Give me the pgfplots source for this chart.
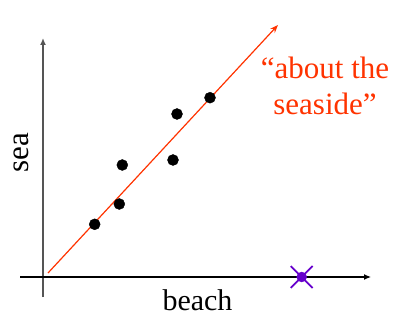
\documentclass[border=0pt]{standalone}
\usepackage{pgfplots}
\pgfplotsset{compat=1.18}
\usepackage{fontspec}
\setmainfont{Liberation Serif}
\usetikzlibrary{arrows.meta}
\definecolor{seared}{HTML}{FF3300}
\definecolor{xpurple}{HTML}{6600CC}
\definecolor{ygray}{HTML}{555555}
\begin{document}
\begin{tikzpicture}
\begin{axis}[
  x=1pt, y=1pt,
  xmin=-43, xmax=369, ymin=-55, ymax=277,
  hide axis, clip=false,
]
% axis lines
\addplot[ygray, line width=1.8pt, -{Latex[length=7pt,width=6pt]}] coordinates {(0,-20) (0,239)};
\addplot[black, line width=1.2pt, -{Latex[length=7pt,width=6pt]}] coordinates {(-23,0) (328,0)};
% trend line
\addplot[seared, line width=1.2pt, -{Stealth[length=8pt,width=6pt]}] coordinates {(5,4) (235,252)};
% points
\addplot[only marks, mark=*, mark size=5.5pt, black] coordinates {
(51.7,52.7) (76.3,73) (79.3,112) (130,117) (134,163) (167,179.3)};
% purple cross
\addplot[only marks, mark=x, mark size=15.5pt, xpurple, line width=1.8pt] coordinates {(258.7,0)};
\addplot[only marks, mark=*, mark size=5pt, xpurple] coordinates {(258.7,0)};
% texts
\node[anchor=base, text=seared, font=\fontsize{31}{36}\selectfont] at (axis cs:282,198) {“about the};
\node[anchor=base, text=seared, font=\fontsize{31}{36}\selectfont] at (axis cs:282,162) {seaside”};
\node[anchor=base, font=\fontsize{30}{34}\selectfont] at (axis cs:154.5,-33) {beach};
\node[anchor=base, rotate=90, font=\fontsize{31}{34}\selectfont] at (axis cs:-15,124) {sea};
\path (axis cs:-43,-55) rectangle (axis cs:369,277);
\end{axis}
\end{tikzpicture}
\end{document}
